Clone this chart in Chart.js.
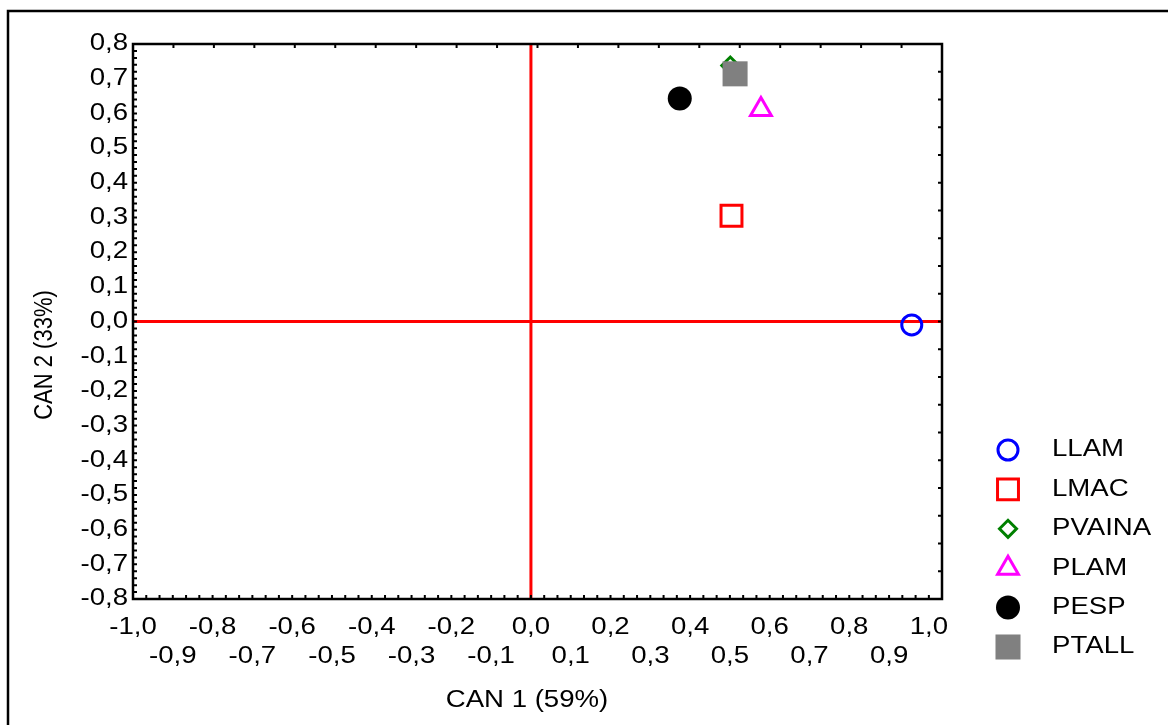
<!DOCTYPE html>
<html>
<head>
<meta charset="utf-8">
<script src="https://cdn.jsdelivr.net/npm/chart.js@4/dist/chart.umd.min.js"></script>
<style>
html,body{margin:0;padding:0;background:#fff;}
#wrap{width:1168px;height:725px;position:relative;}
</style>
</head>
<body>
<div id="wrap"><canvas id="c" width="1168" height="725"></canvas></div>
<script>
// ---- data ----
const categories = ['LLAM', 'LMAC', 'PVAINA', 'PLAM', 'PESP', 'PTALL'];
const can1Values = [0.957, 0.504, 0.501, 0.578, 0.374, 0.513];
const can2Values = [-0.010, 0.305, 0.738, 0.611, 0.643, 0.714];
const xTickValues = [-1.0, -0.9, -0.8, -0.7, -0.6, -0.5, -0.4, -0.3, -0.2, -0.1, 0.0, 0.1, 0.2, 0.3, 0.4, 0.5, 0.6, 0.7, 0.8, 0.9, 1.0];
const yTickValues = [-0.8, -0.7, -0.6, -0.5, -0.4, -0.3, -0.2, -0.1, 0.0, 0.1, 0.2, 0.3, 0.4, 0.5, 0.6, 0.7, 0.8];
const xTitle = 'CAN 1 (59%)';
const yTitle = 'CAN 2 (33%)';

// ---- styles ----
const markerStyles = [
  {pointStyle: 'circle',   radius: 10,   fill: 'rgba(0,0,0,0)', stroke: '#0000ff', lw: 3},
  {pointStyle: 'rect',     radius: 14.8, fill: 'rgba(0,0,0,0)', stroke: '#ff0000', lw: 3},
  {pointStyle: 'rectRot',  radius: 8.5,  fill: 'rgba(0,0,0,0)', stroke: '#008000', lw: 3},
  {pointStyle: 'triangle', radius: 12,   fill: 'rgba(0,0,0,0)', stroke: '#ff00ff', lw: 3},
  {pointStyle: 'circle',   radius: 12,   fill: '#000000', stroke: '#000000', lw: 0},
  {pointStyle: 'rect',     radius: 17.7, fill: '#808080', stroke: '#808080', lw: 0}
];
const FONT = "'Liberation Sans', Arial, sans-serif";
const FS = 23;
const SX = 1.2;

function fmt(v) {
  let r = Math.round(v * 10) / 10;
  if (Object.is(r, -0)) r = 0;
  return r.toFixed(1).replace('.', ',');
}

const stretchText = {
  id: 'stretchText',
  beforeInit(chart) {
    const ctx = chart.ctx;
    if (ctx.__origFill) return;
    const orig = ctx.fillText;
    ctx.__origFill = orig;
    ctx.fillText = function (t, x, y, mw) {
      this.save();
      this.translate(x, y);
      this.scale(SX, 1);
      if (mw === undefined || mw === null) orig.call(this, t, 0, 0);
      else orig.call(this, t, 0, 0, mw / SX);
      this.restore();
    };
  }
};

function drawMarker(ctx, st, x, y) {
  const r = st.radius;
  ctx.save();
  ctx.beginPath();
  if (st.pointStyle === 'circle') {
    ctx.arc(x, y, r, 0, Math.PI * 2);
  } else if (st.pointStyle === 'rect') {
    const s = Math.SQRT1_2 * r;
    ctx.rect(x - s, y - s, 2 * s, 2 * s);
  } else if (st.pointStyle === 'rectRot') {
    ctx.moveTo(x - r, y); ctx.lineTo(x, y - r); ctx.lineTo(x + r, y); ctx.lineTo(x, y + r); ctx.closePath();
  } else if (st.pointStyle === 'triangle') {
    let rad = 0;
    ctx.moveTo(x + Math.sin(rad) * r, y - Math.cos(rad) * r);
    rad += 2 * Math.PI / 3;
    ctx.lineTo(x + Math.sin(rad) * r, y - Math.cos(rad) * r);
    rad += 2 * Math.PI / 3;
    ctx.lineTo(x + Math.sin(rad) * r, y - Math.cos(rad) * r);
    ctx.closePath();
  }
  ctx.fillStyle = st.fill;
  ctx.fill();
  if (st.lw > 0) { ctx.lineWidth = st.lw; ctx.strokeStyle = st.stroke; ctx.stroke(); }
  ctx.restore();
}

const decor = {
  id: 'decor',
  beforeDatasetsDraw(chart) {
    const {ctx, chartArea: a, scales: {x, y}} = chart;
    ctx.save();
    const x0 = x.getPixelForValue(0), y0 = y.getPixelForValue(0);
    ctx.strokeStyle = '#ff0000';
    ctx.lineWidth = 3;
    ctx.beginPath();
    ctx.moveTo(x0, a.top); ctx.lineTo(x0, a.bottom);
    ctx.moveTo(a.left, y0); ctx.lineTo(a.right, y0);
    ctx.stroke();

    ctx.strokeStyle = '#000';
    ctx.lineWidth = 2.5;
    ctx.strokeRect(a.left, a.top, a.right - a.left, a.bottom - a.top);

    ctx.lineWidth = 2;
    ctx.beginPath();
    for (let i = 0; i <= 80; i++) {
      const py = y.getPixelForValue(y.min + i * 0.02);
      ctx.moveTo(a.left, py); ctx.lineTo(a.left + 4, py);
    }
    for (let i = 0; i <= 20; i++) {
      const py = y.getPixelForValue(y.min + i * 0.08);
      ctx.moveTo(a.right, py); ctx.lineTo(a.right - 4, py);
    }
    for (let i = 0; ; i++) {
      const val = x.min + i / 30;
      if (val > x.max) break;
      const px = x.getPixelForValue(val);
      ctx.moveTo(px, a.bottom); ctx.lineTo(px, a.bottom - 4);
    }
    for (let i = 0; i <= 20; i++) {
      const px = a.left + (a.right - a.left) * i / 20;
      ctx.moveTo(px, a.top); ctx.lineTo(px, a.top + 4);
    }
    ctx.stroke();
    ctx.restore();
  },
  afterDraw(chart) {
    const ctx = chart.ctx;
    ctx.save();
    ctx.fillStyle = '#000';
    // x title
    ctx.font = FS + 'px ' + FONT;
    ctx.textAlign = 'center';
    ctx.textBaseline = 'middle';
    ctx.fillText(xTitle, 527, 701);
    // y title (rotated)
    ctx.save();
    ctx.translate(45, 355);
    ctx.rotate(-Math.PI / 2);
    ctx.scale(1, 1.15);
    ctx.font = '22px ' + FONT;
    ctx.textAlign = 'center';
    ctx.textBaseline = 'middle';
    ctx.__origFill.call(ctx, yTitle, 0, 0);
    ctx.restore();
    // legend
    for (let i = 0; i < categories.length; i++) {
      const ly = 450 + i * 39.4;
      drawMarker(ctx, markerStyles[i], 1008, ly);
      ctx.fillStyle = '#000';
      ctx.font = FS + 'px ' + FONT;
      ctx.textAlign = 'left';
      ctx.textBaseline = 'middle';
      ctx.fillText(categories[i], 1052, ly);
    }
    // outer frame
    ctx.strokeStyle = '#000';
    ctx.lineWidth = 2.5;
    ctx.beginPath();
    ctx.moveTo(8, 730); ctx.lineTo(8, 11); ctx.lineTo(1175, 11);
    ctx.stroke();
    ctx.restore();
  }
};

Chart.defaults.font.family = FONT;
Chart.defaults.color = '#000';

const datasets = categories.map((name, i) => ({
  label: name,
  data: [{x: can1Values[i], y: can2Values[i]}],
  pointStyle: markerStyles[i].pointStyle,
  pointRadius: markerStyles[i].radius,
  pointHoverRadius: markerStyles[i].radius,
  backgroundColor: markerStyles[i].fill,
  borderColor: markerStyles[i].stroke,
  pointBorderWidth: markerStyles[i].lw,
  borderWidth: markerStyles[i].lw,
  order: name === 'PTALL' ? -1 : 1
}));

new Chart(document.getElementById('c'), {
  type: 'scatter',
  data: {datasets},
  plugins: [stretchText, decor],
  options: {
    responsive: false,
    animation: false,
    events: [],
    layout: {padding: {left: 0, top: 44, right: 226, bottom: 0}},
    plugins: {legend: {display: false}, tooltip: {enabled: false}},
    scales: {
      x: {
        type: 'linear',
        min: -1.0,
        max: 1.033,
        grid: {display: false, drawTicks: false},
        border: {display: false},
        afterBuildTicks(scale) { scale.ticks = xTickValues.map(v => ({value: v})); },
        afterFit(scale) { scale.height = 126; },
        ticks: {
          autoSkip: false,
          maxRotation: 0,
          minRotation: 0,
          padding: 14,
          font: {size: FS, lineHeight: '29px'},
          color: '#000',
          callback(value) {
            const k = Math.round((value + 1) * 10);
            return k % 2 === 0 ? [fmt(value)] : ['', fmt(value)];
          }
        }
      },
      y: {
        type: 'linear',
        min: -0.8,
        max: 0.8,
        grid: {display: false, drawTicks: false},
        border: {display: false},
        afterBuildTicks(scale) { scale.ticks = yTickValues.map(v => ({value: v})); },
        afterFit(scale) { scale.width = 133; },
        ticks: {
          autoSkip: false,
          padding: 5,
          font: {size: FS},
          color: '#000',
          callback(value) { return fmt(value); }
        }
      }
    }
  }
});
</script>
</body>
</html>
